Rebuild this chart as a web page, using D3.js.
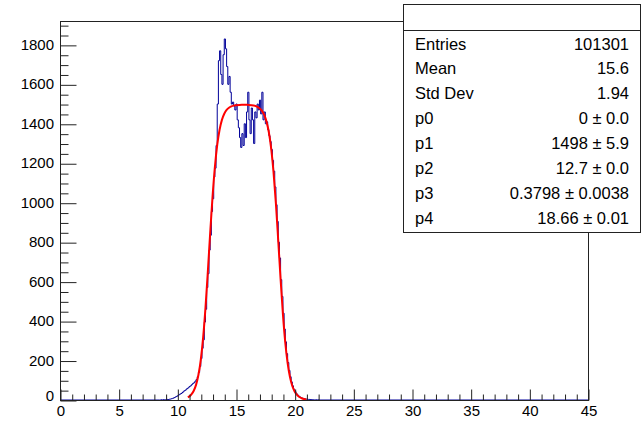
<!DOCTYPE html>
<html><head><meta charset="utf-8">
<script src="https://cdn.jsdelivr.net/npm/d3@7"></script>
<style>html,body{margin:0;padding:0;background:#fff;}svg{display:block;}</style>
</head><body>
<script>
// Histogram: bins of width 0.1 starting at 8.5
const binStart = 8.5;
const binWidth = 0.1;
const binCounts = [
  0,1,0,2,1, 2,3,2,4,5, 7,9,12,15,18,
  22,26,30,33,38, 44,48,52,58,62,
  68,72,78,84,88, 96,104,118,140,170,
  210,262,305,395,460, 570,640,760,835,955,
  1020,1130,1175,1290,1500, 1720,1770,1650,1600,1750,
  1830,1780,1690,1600,1640, 1560,1500,1510,1490,1470,
  1500,1420,1380,1330,1280, 1350,1290,1400,1330,1460,
  1560,1420,1350,1480,1420, 1300,1460,1430,1500,1470,
  1520,1450,1560,1420,1460, 1400,1410,1370,1340,1310,
  1270,1215,1160,1080,990, 905,800,720,610,525,
  440,360,295,235,190, 150,118,92,72,55,
  44,34,26,20,16, 12,9,8,6,5,
  4,3,3,2,2, 2,1,1,1,0, 1
];
// Fit curve samples
const fitX = [10.9,11.0,11.2,11.4,11.6,11.8,12.0,12.2,12.4,12.6,12.8,13.0,13.2,13.4,13.6,13.8,14.0,14.2,14.4,14.6,14.8,15.0,15.5,16.0,16.5,17.0,17.2,17.4,17.6,17.8,18.0,18.2,18.4,18.6,18.8,19.0,19.2,19.4,19.6,19.8,20.0,20.2,20.4,20.6,20.8,21.0];
const fitY = [13,17,28,47,78,128,205,317,468,651,847,1030,1181,1293,1370,1420,1451,1470,1481,1488,1492,1494,1497,1496,1493,1479,1467,1446,1411,1357,1274,1154,996,808,613,434,291,187,116,71,43,26,15,9,5,3];
// Axes
const xTicks = [0,5,10,15,20,25,30,35,40,45];
const yTicks = [0,200,400,600,800,1000,1200,1400,1600,1800];
const xDomain = [0,45];
const yDomain = [0,1921];
// Stats box
const statLabels = ["Entries","Mean","Std Dev","p0","p1","p2","p3","p4"];
const statValues = ["101301","15.6","1.94","0 \u00b1 0.0","1498 \u00b1 5.9","12.7 \u00b1 0.0","0.3798 \u00b1 0.0038","18.66 \u00b1 0.01"];

const W = 643, H = 421;
const L = 60, R = 588, T = 21, B = 400;
const svg = d3.select("body").append("svg").attr("width", W).attr("height", H);
svg.append("rect").attr("width", W).attr("height", H).attr("fill", "#fff");
const x = d3.scaleLinear().domain(xDomain).range([L, R]);
const y = d3.scaleLinear().domain(yDomain).range([B, T]);
const font = "'Liberation Sans', Arial, Helvetica, sans-serif";

// histogram step path
const pts = [[xDomain[0], 0], [binStart, 0]];
binCounts.forEach((c, i) => {
  const x0 = binStart + i * binWidth, x1 = x0 + binWidth;
  pts.push([x0, c], [x1, c]);
});
const lastX = binStart + binCounts.length * binWidth;
pts.push([lastX, 0], [xDomain[1], 0]);
svg.append("path")
  .attr("d", d3.line().x(d => x(d[0])).y(d => y(d[1]))(pts))
  .attr("fill", "none").attr("stroke", "#000099").attr("stroke-width", 1);

// fit curve
svg.append("path")
  .attr("d", d3.line().x((d, i) => x(fitX[i])).y(d => y(d)).curve(d3.curveMonotoneX)(fitY))
  .attr("fill", "none").attr("stroke", "#ff0000").attr("stroke-width", 2);

// frame
svg.append("rect").attr("x", L + 0.5).attr("y", T + 0.5).attr("width", R - L).attr("height", B - T)
  .attr("fill", "none").attr("stroke", "#222").attr("stroke-width", 1);

// x axis ticks (inward)
const xAxis = d3.axisTop(x).tickValues(d3.range(0, 46, 1)).tickSize(0).tickFormat("");
const gx = svg.append("g").attr("transform", `translate(0.5,${B + 0.5})`).call(xAxis);
gx.select(".domain").remove();
gx.selectAll(".tick line").attr("y2", d => (d % 5 === 0 ? -11 : -6)).attr("stroke", "#222");
svg.append("g").selectAll("text").data(xTicks).join("text")
  .attr("x", d => x(d) + 1).attr("y", 416).attr("text-anchor", "middle")
  .attr("font-family", font).attr("font-size", "15px").attr("fill", "#000").text(d => d);

// y axis ticks (inward)
const yAxis = d3.axisRight(y).tickValues(d3.range(0, 1901, 50)).tickSize(0).tickFormat("");
const gy = svg.append("g").attr("transform", `translate(${L + 0.5},0.5)`).call(yAxis);
gy.select(".domain").remove();
gy.selectAll(".tick line").attr("x2", d => (d % 200 === 0 ? 16 : 8)).attr("stroke", "#222");
svg.append("g").selectAll("text").data(yTicks).join("text")
  .attr("x", 54).attr("y", d => y(d) + (d === 0 ? 1 : 5)).attr("text-anchor", "end")
  .attr("font-family", font).attr("font-size", "15px").attr("fill", "#000").text(d => d);

// stats box
const bx = 403.5, by = 4.5, bw = 237, bh = 228;
svg.append("rect").attr("x", bx).attr("y", by).attr("width", bw).attr("height", bh)
  .attr("fill", "#fff").attr("stroke", "#222").attr("stroke-width", 1);
svg.append("line").attr("x1", bx).attr("x2", bx + bw).attr("y1", 30.5).attr("y2", 30.5)
  .attr("stroke", "#222");
const rowY = d3.scaleLinear().domain([0, 7]).range([43.5, 218]);
statLabels.forEach((lab, i) => {
  svg.append("text").attr("x", 415).attr("y", rowY(i) + 6)
    .attr("font-family", font).attr("font-size", "16.5px").attr("fill", "#000").text(lab);
  svg.append("text").attr("x", 629).attr("y", rowY(i) + 6).attr("text-anchor", "end")
    .attr("font-family", font).attr("font-size", "16.5px").attr("fill", "#000").text(statValues[i]);
});
</script>
</body></html>
